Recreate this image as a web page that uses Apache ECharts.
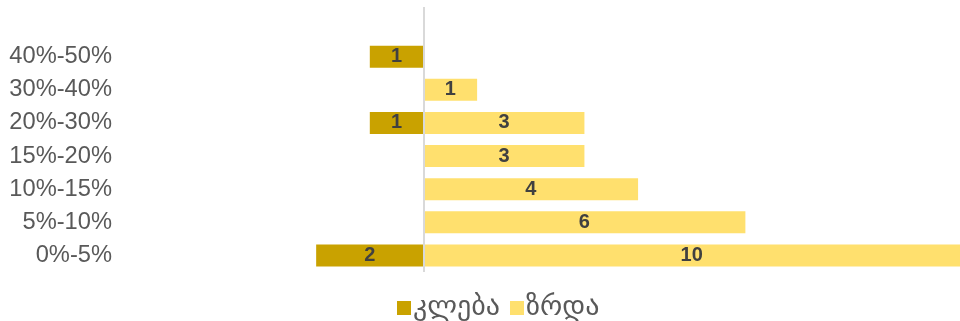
<!DOCTYPE html>
<html>
<head>
<meta charset="utf-8">
<script src="https://cdn.jsdelivr.net/npm/echarts@6/dist/echarts.min.js"></script>
<style>
  html, body { margin: 0; padding: 0; background: #fff; }
  #chart { width: 960px; height: 321px; }
</style>
</head>
<body>
<div id="chart"></div>
<script>
  // categories bottom -> top (top one is an empty row, as in the source sheet)
  const categories = ['0%-5%', '5%-10%', '10%-15%', '15%-20%', '20%-30%', '30%-40%', '40%-50%', ''];
  const decreaseName = 'კლება';
  const increaseName = 'ზრდა';
  const decreaseValues = [-2, null, null, null, -1, null, -1, null];
  const increaseValues = [10, 6, 4, 3, 3, 1, null, null];

  const chart = echarts.init(document.getElementById('chart'));

  const labelStyle = {
    show: true,
    position: 'inside',
    fontFamily: 'Liberation Sans, Arial, sans-serif',
    fontWeight: 'bold',
    fontSize: 20,
    color: '#404040',
    formatter: p => Math.abs(p.value)
  };

  chart.setOption({
    animation: false,
    grid: { left: 123, right: 0, top: 7, bottom: 49 },
    legend: {
      top: 294,
      left: 397,
      padding: 0,
      itemWidth: 14,
      itemHeight: 14,
      itemGap: 10,
      icon: 'rect',
      textStyle: { fontFamily: 'DejaVu Sans, sans-serif', fontSize: 28, color: '#595959', padding: [0, 0, 0, -3] },
      data: [decreaseName, increaseName]
    },
    xAxis: {
      type: 'value',
      min: -5.6,
      max: 10,
      show: false
    },
    yAxis: {
      type: 'category',
      data: categories,
      axisLine: { show: false },
      axisTick: { show: false },
      axisLabel: {
        fontFamily: 'Liberation Sans, Arial, sans-serif',
        fontSize: 23.7,
        color: '#595959',
        margin: 11
      }
    },
    series: [
      {
        name: decreaseName,
        type: 'bar',
        stack: 'all',
        barWidth: 22,
        itemStyle: { color: '#C9A200' },
        label: labelStyle,
        data: decreaseValues
      },
      {
        name: increaseName,
        type: 'bar',
        stack: 'all',
        barWidth: 22,
        itemStyle: { color: '#FFE06E' },
        label: labelStyle,
        data: increaseValues,
        markLine: {
          silent: true,
          symbol: 'none',
          label: { show: false },
          lineStyle: { color: '#D9D9D9', width: 2, type: 'solid' },
          data: [{ xAxis: 0 }]
        }
      }
    ]
  });
</script>
</body>
</html>
